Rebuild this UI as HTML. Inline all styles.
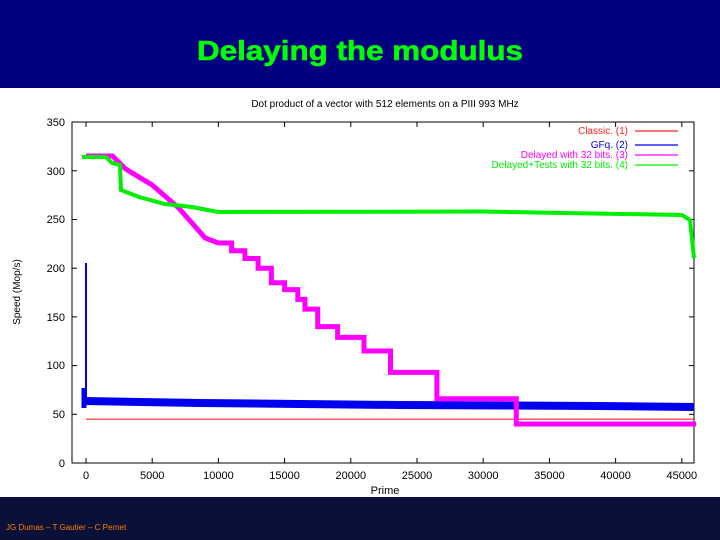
<!DOCTYPE html>
<html><head><meta charset="utf-8"><style>
html,body{margin:0;padding:0;width:720px;height:540px;overflow:hidden;background:#fff}
</style></head><body>
<svg width="720" height="540" viewBox="0 0 720 540" xmlns="http://www.w3.org/2000/svg" font-family="Liberation Sans, sans-serif">
<rect x="0" y="0" width="720" height="88" fill="#000080"/>
<rect x="0" y="88" width="720" height="409" fill="#fff"/>
<rect x="0" y="497" width="720" height="43" fill="#0a1038"/>
<text x="360" y="60" text-anchor="middle" font-size="28" font-weight="bold" fill="#00ff00" stroke="#00ff00" stroke-width="0.6" textLength="326" lengthAdjust="spacingAndGlyphs">Delaying the modulus</text>
<text x="6" y="530" font-size="8" fill="#ff7f00">JG Dumas – T Gautier – C Pernet</text>
<text x="385" y="107" text-anchor="middle" font-size="10" fill="#000">Dot product of a vector with 512 elements on a PIII 993 MHz</text>
<rect x="72" y="122" width="622" height="341" fill="none" stroke="#000" stroke-width="1"/>
<g stroke="#000" stroke-width="1">
<line x1="86" y1="463" x2="86" y2="458"/><line x1="152.2" y1="463" x2="152.2" y2="458"/><line x1="218.4" y1="463" x2="218.4" y2="458"/><line x1="284.6" y1="463" x2="284.6" y2="458"/><line x1="350.8" y1="463" x2="350.8" y2="458"/><line x1="417" y1="463" x2="417" y2="458"/><line x1="483.2" y1="463" x2="483.2" y2="458"/><line x1="549.4" y1="463" x2="549.4" y2="458"/><line x1="615.6" y1="463" x2="615.6" y2="458"/><line x1="681.8" y1="463" x2="681.8" y2="458"/>
<line x1="86" y1="122" x2="86" y2="127"/><line x1="152.2" y1="122" x2="152.2" y2="127"/><line x1="218.4" y1="122" x2="218.4" y2="127"/><line x1="284.6" y1="122" x2="284.6" y2="127"/><line x1="350.8" y1="122" x2="350.8" y2="127"/><line x1="417" y1="122" x2="417" y2="127"/><line x1="483.2" y1="122" x2="483.2" y2="127"/><line x1="549.4" y1="122" x2="549.4" y2="127"/><line x1="615.6" y1="122" x2="615.6" y2="127"/><line x1="681.8" y1="122" x2="681.8" y2="127"/>
<line x1="72" y1="414.3" x2="77" y2="414.3"/><line x1="72" y1="365.6" x2="77" y2="365.6"/><line x1="72" y1="316.9" x2="77" y2="316.9"/><line x1="72" y1="268.2" x2="77" y2="268.2"/><line x1="72" y1="219.5" x2="77" y2="219.5"/><line x1="72" y1="170.8" x2="77" y2="170.8"/>
<line x1="694" y1="414.3" x2="689" y2="414.3"/><line x1="694" y1="365.6" x2="689" y2="365.6"/><line x1="694" y1="316.9" x2="689" y2="316.9"/><line x1="694" y1="268.2" x2="689" y2="268.2"/><line x1="694" y1="219.5" x2="689" y2="219.5"/><line x1="694" y1="170.8" x2="689" y2="170.8"/>
</g>
<g font-size="11" fill="#000" text-anchor="middle">
<text x="86" y="479">0</text><text x="152.2" y="479">5000</text><text x="218.4" y="479">10000</text><text x="284.6" y="479">15000</text><text x="350.8" y="479">20000</text><text x="417" y="479">25000</text><text x="483.2" y="479">30000</text><text x="549.4" y="479">35000</text><text x="615.6" y="479">40000</text><text x="681.8" y="479">45000</text>
<text x="385" y="494">Prime</text>
</g>
<g font-size="11" fill="#000" text-anchor="end">
<text x="65" y="467">0</text><text x="65" y="418">50</text><text x="65" y="369">100</text><text x="65" y="321">150</text><text x="65" y="272">200</text><text x="65" y="223">250</text><text x="65" y="175">300</text><text x="65" y="126">350</text>
</g>
<text transform="translate(20,292) rotate(-90)" text-anchor="middle" font-size="10" fill="#000">Speed (Mop/s)</text>
<line x1="86" y1="419.2" x2="694" y2="419.2" stroke="#ff2020" stroke-width="1.2"/>
<path d="M84,401 L200,403 L400,405 L600,406 L694,407" fill="none" stroke="#0000ee" stroke-width="8"/>
<path d="M84,388 V408" stroke="#0000ee" stroke-width="5"/>
<path d="M86,263 L86,400" stroke="#0000ee" stroke-width="2"/>
<path d="M86,156 H112.5 L125.7,169 L152.2,185 L178.7,208 L205.2,238 L218.4,243 H231.6 V250.7 H244.9 V258.5 H258.1 V268.2 H271.4 V282.8 H284.6 V289.6 H297.8 V299.4 H305 V309.1 H317.7 V326.6 H337.6 V337.4 H364 V351 H390.5 V372.4 H436.9 V398.7 H516.3 V424 H696" fill="none" stroke="#ff00ff" stroke-width="5"/>
<path d="M82,157 H106 L112,163 L120,165 L121,190 L139,197 L165,204 L192,207 L218,212 L483,211.5 L682,215 L690,220 L694,258" fill="none" stroke="#00ee00" stroke-width="4"/>
<g font-size="10" text-anchor="end">
<text x="628" y="134" fill="#ff2020">Classic. (1)</text>
<text x="628" y="148" fill="#0000ee">GFq. (2)</text>
<text x="628" y="158" fill="#ff00ff">Delayed with 32 bits. (3)</text>
<text x="628" y="168" fill="#00ee00">Delayed+Tests with 32 bits. (4)</text>
</g>
<line x1="635" y1="131" x2="678" y2="131" stroke="#ff2020" stroke-width="1.2"/>
<line x1="635" y1="145" x2="678" y2="145" stroke="#0000ee" stroke-width="1.2"/>
<line x1="635" y1="155" x2="678" y2="155" stroke="#ff00ff" stroke-width="1.2"/>
<line x1="635" y1="165" x2="678" y2="165" stroke="#00ee00" stroke-width="1.2"/>
</svg>
</body></html>
